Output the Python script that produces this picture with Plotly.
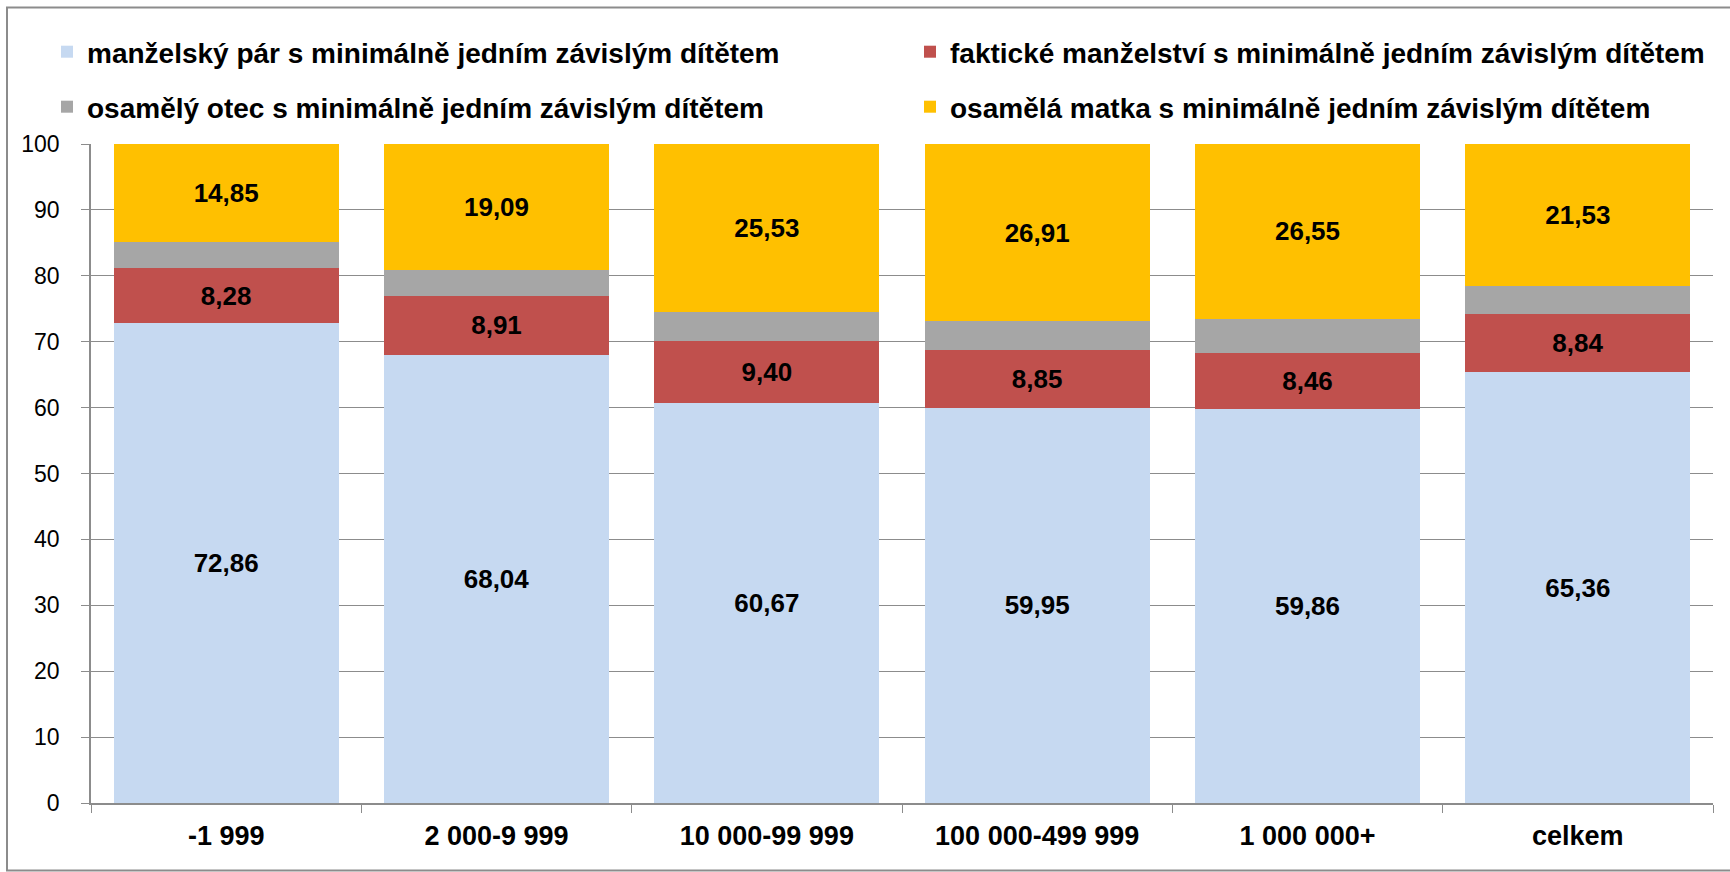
import plotly.graph_objects as go

categories = ["-1 999", "2 000-9 999", "10 000-99 999", "100 000-499 999", "1 000 000+", "celkem"]

manzelsky_par = [72.86, 68.04, 60.67, 59.95, 59.86, 65.36]
fakticke_manzelstvi = [8.28, 8.91, 9.40, 8.85, 8.46, 8.84]
osamely_otec = [4.01, 3.96, 4.40, 4.29, 5.13, 4.27]
osamela_matka = [14.85, 19.09, 25.53, 26.91, 26.55, 21.53]

series_names = [
    "manželský pár s minimálně jedním závislým dítětem",
    "faktické manželství s minimálně jedním závislým dítětem",
    "osamělý otec s minimálně jedním závislým dítětem",
    "osamělá matka s minimálně jedním závislým dítětem",
]

FONT = "Liberation Sans, Arial, sans-serif"
GRID = "#8c8c8c"


def fmt(vals):
    return [f"{v:.2f}".replace(".", ",") for v in vals]


fig = go.Figure()

# one legend per entry so the 2x2 grid can be placed like the original
series = [
    (manzelsky_par, "#c6d9f1", True, "legend"),
    (fakticke_manzelstvi, "#c0504d", True, "legend2"),
    (osamely_otec, "#a6a6a6", False, "legend3"),
    (osamela_matka, "#ffc000", True, "legend4"),
]

for (vals, color, labelled, leg), name in zip(series, series_names):
    fig.add_trace(go.Bar(
        x=categories, y=vals, name=name, legend=leg,
        marker=dict(color=color, line=dict(width=0)),
        text=fmt(vals) if labelled else None,
        textposition="inside" if labelled else "none",
        insidetextanchor="middle", textangle=0,
        constraintext="none",
        textfont=dict(family=FONT, size=26, color="black", weight="bold"),
    ))

legend_style = dict(
    orientation="h", xref="container", yref="container",
    xanchor="left", yanchor="middle",
    font=dict(family=FONT, size=28, color="black", weight="bold"),
    bgcolor="rgba(0,0,0,0)",
)
col1, col2 = 47 / 1730, 910 / 1730
row1, row2 = 1 - 52 / 872, 1 - 107 / 872

fig.update_layout(
    width=1730, height=872,
    barmode="stack", bargap=0.167,
    showlegend=True,
    plot_bgcolor="white", paper_bgcolor="white",
    margin=dict(l=91, r=17, t=144, b=69, autoexpand=False),
    legend=dict(x=col1, y=row1, **legend_style),
    legend2=dict(x=col2, y=row1, **legend_style),
    legend3=dict(x=col1, y=row2, **legend_style),
    legend4=dict(x=col2, y=row2, **legend_style),
    xaxis=dict(
        showline=True, linecolor=GRID, linewidth=1.5,
        ticks="outside", tickson="boundaries", ticklen=8, tickcolor=GRID,
        tickfont=dict(family=FONT, size=27, color="black", weight="bold"),
        ticklabelstandoff=8,
    ),
    yaxis=dict(
        range=[0, 100], dtick=10,
        showgrid=True, gridcolor=GRID, gridwidth=1.2,
        showline=True, linecolor=GRID, linewidth=1.5,
        ticks="outside", ticklen=8, tickcolor=GRID,
        tickfont=dict(family=FONT, size=23, color="black"),
        ticklabelstandoff=17, zeroline=False,
    ),
    shapes=[dict(
        type="rect", xref="paper", yref="paper",
        x0=(7 - 91) / 1622, x1=(1740 - 91) / 1622,
        y0=-(870.5 - 803) / 659, y1=1 + (144 - 7.5) / 659,
        line=dict(color=GRID, width=2), fillcolor="rgba(0,0,0,0)",
        layer="below",
    )],
)

# drop the default page margin so the figure fills the window exactly
fig.write_html("out.html", config={"displayModeBar": False},
               post_script="document.body.style.margin = '0';")
